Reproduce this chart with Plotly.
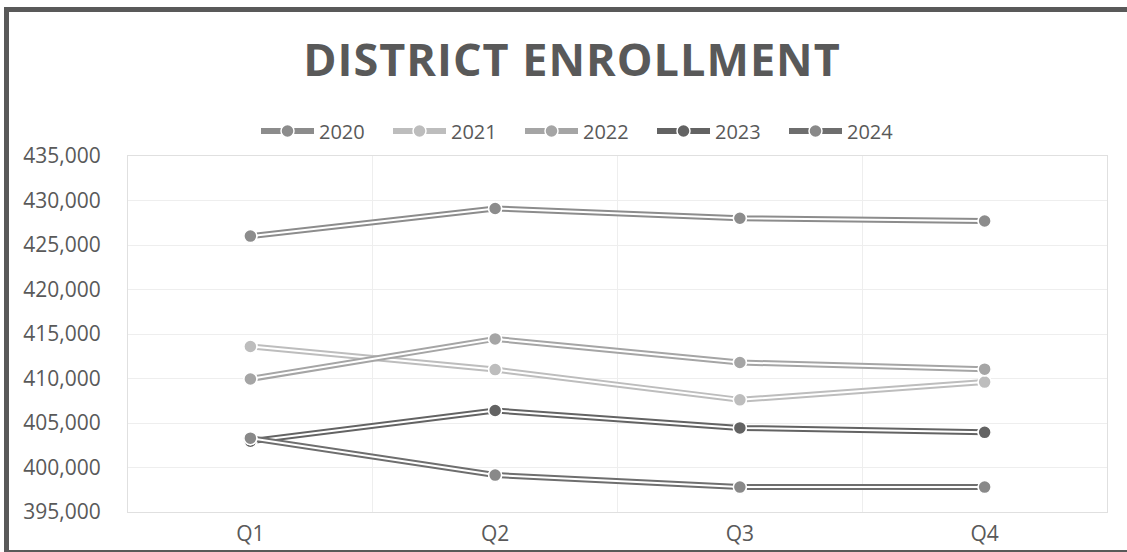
import plotly.graph_objects as go

quarters = ["Q1", "Q2", "Q3", "Q4"]
years = ["2020", "2021", "2022", "2023", "2024"]
enroll_2020 = [426000, 429100, 428000, 427700]
enroll_2021 = [413600, 411000, 407600, 409600]
enroll_2022 = [409950, 414450, 411800, 411050]
enroll_2023 = [402950, 406400, 404450, 403950]
enroll_2024 = [403300, 399150, 397800, 397800]
y_ticks = list(range(395000, 435001, 5000))

series = [enroll_2020, enroll_2021, enroll_2022, enroll_2023, enroll_2024]
line_colors = ["#8c8c8c", "#bdbdbd", "#a5a5a5", "#636363", "#6e6e6e"]
marker_colors = ["#8c8c8c", "#bdbdbd", "#a5a5a5", "#636363", "#898989"]

W, H = 1127, 552
L, R, T, B = 128, 20, 156, 40
pw, ph = W - L - R, H - T - B

def px(x):
    return (x - L) / pw

def py(y):
    return (H - B - y) / ph

fig = go.Figure()
for name, vals, lc, mc in zip(years, series, line_colors, marker_colors):
    fig.add_trace(go.Scatter(
        x=quarters, y=vals, name=name, mode="lines+markers",
        line=dict(color=lc, width=6),
        marker=dict(color=mc, size=13, line=dict(color="white", width=1.5)),
        legendgroup=name, showlegend=True))
    fig.add_trace(go.Scatter(
        x=quarters, y=vals, mode="lines", line=dict(color="white", width=2),
        legendgroup=name, showlegend=False, hoverinfo="skip"))
    fig.add_trace(go.Scatter(
        x=quarters, y=vals, mode="markers",
        marker=dict(color=mc, size=13, line=dict(color="white", width=1.5)),
        legendgroup=name, showlegend=False, hoverinfo="skip"))

fig.update_layout(
    width=W, height=H,
    margin=dict(l=L, r=R, t=T, b=B, autoexpand=False),
    paper_bgcolor="white", plot_bgcolor="white",
    font=dict(family="Open Sans", size=21, color="#595959"),
    title=dict(
        text='<span style="letter-spacing:1px">DISTRICT ENROLLMENT</span>',
        font=dict(family="Open Sans", size=45, color="#595959", weight="bold"),
        x=572 / W, xref="container", xanchor="center",
        y=1 - 60 / H, yref="container", yanchor="middle"),
    legend=dict(
        orientation="h", xref="container", yref="container",
        x=256 / W, xanchor="left",
        y=1 - 131 / H, yanchor="middle",
        font=dict(size=20, color="#595959"),
        entrywidth=64, itemwidth=53),
    xaxis=dict(
        type="category", range=[-0.5, 3.5], tickson="boundaries",
        showgrid=True, gridcolor="#eeeeee", gridwidth=1,
        showline=True, linecolor="#e0e0e0", mirror=True,
        ticks="", ticklabelstandoff=3, zeroline=False, automargin=False),
    yaxis=dict(
        range=[395000, 435000], tickvals=y_ticks, tickformat=",",
        showgrid=True, gridcolor="#eeeeee", gridwidth=1,
        showline=True, linecolor="#e0e0e0", mirror=True,
        ticks="", ticklabelstandoff=22, zeroline=False, automargin=False),
    shapes=[dict(
        type="rect", xref="paper", yref="paper",
        x0=px(6.5), x1=px(1145), y0=py(552.5), y1=py(9.5),
        line=dict(color="#595959", width=5), layer="above")],
)

fig.write_html("out.html", config={"displayModeBar": False},
               post_script="document.body.style.margin='0';")
